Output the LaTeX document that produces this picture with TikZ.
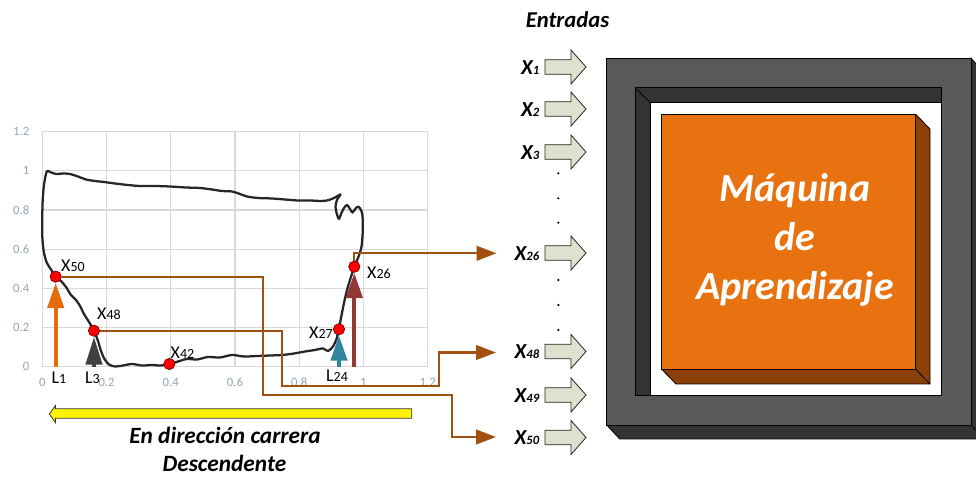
\documentclass[tikz,border=0pt]{standalone}
\usepackage{fontspec}
\setmainfont{Carlito}
\usepackage{tikz}
\usetikzlibrary{arrows.meta,positioning,calc,backgrounds}
\definecolor{rejilla}{HTML}{D9D9D9}
\definecolor{eje}{HTML}{95A3B8}
\definecolor{trazo}{HTML}{262626}
\definecolor{cafe}{HTML}{A0500F}
\definecolor{naranja}{HTML}{E46C0A}
\definecolor{grisosc}{HTML}{404040}
\definecolor{azulv}{HTML}{31859C}
\definecolor{granate}{HTML}{953735}
\definecolor{salvia}{HTML}{DDE2CE}
\definecolor{marco}{HTML}{595959}
\definecolor{sombra}{HTML}{333333}
\definecolor{caja}{HTML}{E8720F}
\definecolor{cajaosc}{HTML}{8B4009}
\newcommand{\sx}[2]{#1{\fontsize{10.5}{11}\selectfont#2}}
\newcommand{\ix}[1]{X{\fontsize{9.5}{10}\selectfont#1}}
\tikzset{
  % gráfico
  gl/.style={draw=rejilla,line width=0.9pt},
  tk/.style={font=\fontsize{9.5}{10}\selectfont,text=eje,inner sep=0pt},
  cv/.style={draw=trazo,line width=1.7pt,line join=round},
  pt/.style={circle,fill=red,draw=red!45!black,line width=0.5pt,inner sep=0pt,minimum size=8.5pt},
  pl/.style={font=\fontsize{13.5}{14}\selectfont,inner sep=0pt},
  up/.style={-{Triangle[length=19pt,width=12pt]},line width=3.2pt},
  cn/.style={draw=cafe,line width=1.7pt,-{Triangle[length=15pt,width=11pt]}},
  yl/.style={fill=yellow,draw=black!80,line width=0.6pt},
  tx/.style={font=\bfseries\itshape\fontsize{17.5}{21}\selectfont,inner sep=0pt},
  % entradas
  ia/.style={fill=salvia,draw=black!85,line width=0.6pt},
  il/.style={font=\bfseries\itshape\fontsize{16}{16}\selectfont,inner sep=0pt,anchor=base east},
  dt/.style={circle,fill=black,inner sep=0pt,minimum size=1.8pt},
  % máquina
  fr/.style={draw=black,line width=0.6pt},
  mq/.style={font=\bfseries\itshape\fontsize{30}{36.75}\selectfont,text=white,align=center,inner sep=0pt},
}

\begin{document}
\begin{tikzpicture}[x=0.75pt,y=-0.75pt]
\useasboundingbox (0,0) rectangle (976,477);
  % puntos de la curva
  \node[pt] (p50) at (55.7,276.7) {};
  \node[pt] (p48) at (94,330.7) {};
  \node[pt] (p42) at (169.3,364) {};
  \node[pt] (p27) at (339,329.3) {};
  \node[pt] (p26) at (354.3,266.7) {};
  \coordinate (b1) at (55.7,366.7);
  \coordinate (b3) at (94,366.7);
  \coordinate (b24) at (339,366.7);
  \coordinate (b26) at (354.3,366.7);
  \begin{scope}[on background layer]
  \foreach \i in {0,...,6} {
    \draw[gl] ({42.3+64.23*\i},131.7) -- ({42.3+64.23*\i},366.7);
    \draw[gl] (42.3,{366.7-39.17*\i}) -- (427.7,{366.7-39.17*\i});
  }
  \draw[cv] plot[smooth cycle,tension=0.5] coordinates {
    (46.7,171.5) (44,185) (42.7,200) (42.3,215) (42.3,236) (43.5,250) (46.5,262)
    (51,269.5) (55.7,276.7) (61,281) (66,287) (71,295) (76,300) (80,306) (84,314)
    (89,322) (94,330.7) (98,341) (101,351) (104.5,359) (109,364.5) (115,366.5)
    (123,365.5) (132,364) (142,365.5) (152,365) (161,365.5) (169.3,364) (178,361.5)
    (187,359) (197,359.5) (208,357) (220,357.5) (232,355) (244,356.5) (257,356)
    (270,355.5) (282,355) (294,353.5) (305,351.5) (315,350) (323,348.5) (328,351)
    (333,346.5) (336.5,339) (338.7,329.3) (341,318) (344,303) (347,290) (350,280)
    (354.3,266.7) (358,258) (361.5,246.7) (362.8,230) (362.5,216) (361,210)
    (358.3,206.7) (355.5,208.5) (352.5,212.5) (350,209) (347,205) (344,208)
    (341,214) (339,219) (337,214.5) (335.5,207) (337,200) (340.5,194.5) (335,197.5)
    (329,200) (322,201) (310,200.5) (298,200.5) (285,199.5) (272,198.5) (258,198)
    (247,196.5) (240,194) (232,191.5) (222,191) (212,189.5) (200,188) (186,187.5)
    (170,186.5) (155,186) (140,186) (128,185) (115,183.5) (104,182) (95,181)
    (86,179.5) (78,176.5) (70,174) (63,173.5) (56,174) (50,172)};
  \draw[up,draw=naranja] (b1) -- (p50);
  \draw[up,draw=grisosc,-{Triangle[length=21pt,width=12pt]}] (b3) -- (p48);
  \draw[up,draw=azulv] (b24) -- (p27);
  \draw[up,draw=granate] (b26) -- (p26);
  \end{scope}
  \foreach \v [count=\i from 0] in {0,0.2,0.4,0.6,0.8,1,1.2} {
    \node[tk] (tx\i) at ({42.3+64.23*\i},382.5) {\v};
    \node[tk,anchor=east] (ty\i) at (29.5,{366.7-39.17*\i}) {\v};
  }
  \node[pl] (t50) at (73,266) {\sx{X}{50}};
  \node[pl] (t48) at (109,314) {\sx{X}{48}};
  \node[pl] (t42) at (182.5,352.5) {\sx{X}{42}};
  \node[pl] (t27) at (321,332.5) {\sx{X}{27}};
  \node[pl] (t26) at (379,272.5) {\sx{X}{26}};
  \node[pl] (l1) at (59,377.5) {\sx{L}{1}};
  \node[pl] (l3) at (92.5,377.5) {\sx{L}{3}};
  \node[pl] (l24) at (337,376) {\sx{L}{24}};
  % conexiones
  \coordinate (e26) at (496.5,253.3);
  \coordinate (e48) at (496,352.5);
  \coordinate (e50) at (496,437);
  \draw[cn] (p26) |- (e26);
  \draw[cn] (p48) -| (281.7,385.7) -| (438.7,352.5) -- (e48);
  \draw[cn] (p50) -| (262.7,394.7) -| (451.7,437) -- (e50);
  \draw[yl] (49.3,414) -- (55.5,405.5) -- (55.5,408.8) -- (411.7,408.8) -- (411.7,418.2)
    -- (55.5,418.2) -- (55.5,422.7) -- cycle;
  \node[tx,anchor=base] (d1) at (225,444) {En dirección carrera};
  \node[tx,anchor=base] (d2) at (224.5,471.7) {Descendente};
  % entradas
  \node[tx,anchor=base,font=\bfseries\itshape\fontsize{17}{17}\selectfont] (ent) at (567.5,28) {Entradas};
  \foreach \y/\n in {67/1,109/2,152/3,253/26,351.5/48,395/49,437.5/50} {
    \draw[ia] (545,{\y-7.3}) -- (571,{\y-7.3}) -- (571,{\y-17}) -- (586,\y) -- (571,{\y+17})
      -- (571,{\y+7.3}) -- (545,{\y+7.3}) -- cycle;
    \node[il] (x\n) at (539.5,{\y+7.5}) {\ix{\n}};
  }
  \foreach \y [count=\k] in {173.3,198.3,222.7,280,305,330}
    \node[dt] (pd\k) at (558.3,\y) {};
  % máquina
  \draw[fr,fill=sombra] (606.7,425) -- (619.7,439) -- (984,439) -- (984,72.3) -- (971,58.3)
    -- (971,425) -- cycle;
  \draw[fr,fill=marco] (606.7,58.3) rectangle (971,425);
  \draw[fr] (971,425) -- (984,439);
  \draw[fr,fill=white] (635,87.7) rectangle (941.7,395.7);
  \draw[fr,fill=sombra] (635,87.7) -- (941.7,87.7) -- (941.7,102.3) -- (650,102.3)
    -- (650,395.7) -- (635,395.7) -- cycle;
  \draw[fr] (635,87.7) -- (650,102.3);
  \draw[fr,fill=cajaosc] (915.7,114.3) -- (930,129) -- (930,384) -- (676,384)
    -- (661.7,369.3) -- cycle;
  \draw[fr,fill=caja] (661.7,114.3) rectangle (915.7,369.3);
  \draw[fr] (915.7,369.3) -- (930,384);
  \node[mq] (mq) at (795,240) {Máquina\\de\\Aprendizaje};
\end{tikzpicture}
\end{document}
